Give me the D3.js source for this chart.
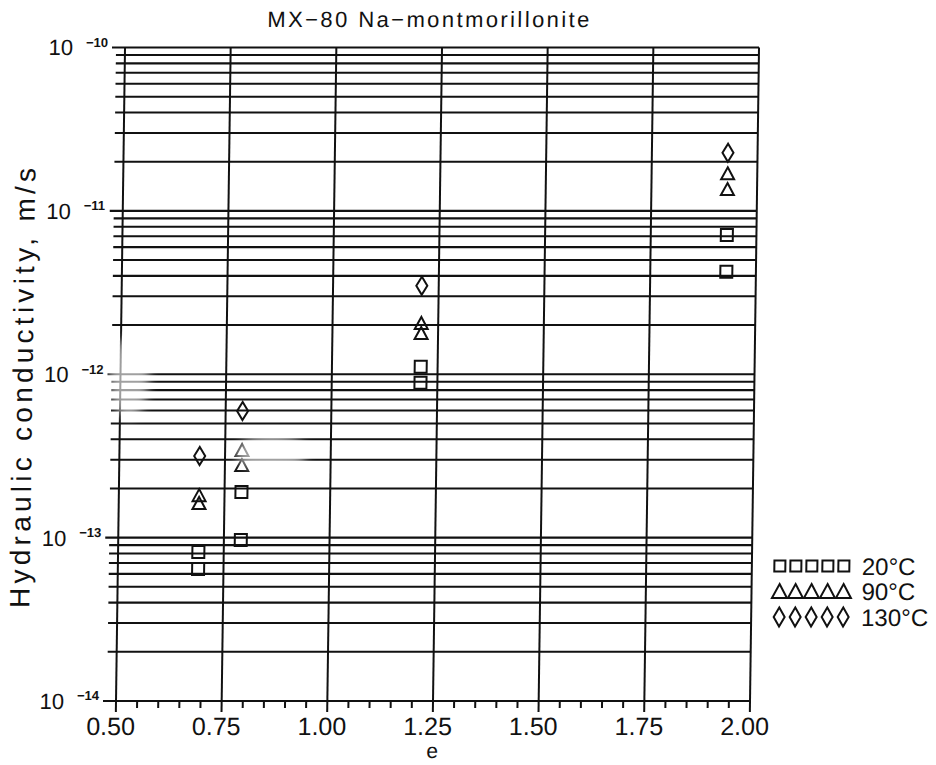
<!DOCTYPE html>
<html>
<head>
<meta charset="utf-8">
<script src="https://cdn.jsdelivr.net/npm/d3@7/dist/d3.min.js"></script>
<style>
  html, body { margin: 0; padding: 0; background: #fff; }
  svg { display: block; }
  text { font-family: "Liberation Sans", Arial, sans-serif; fill: #111; }
</style>
</head>
<body>
<svg id="chart" width="936" height="765"></svg>
<script>
// Void ratio e and hydraulic conductivity (m/s) for MX-80 Na-montmorillonite
const e20  = [0.69, 0.69, 0.79, 0.79, 1.21, 1.21, 1.93, 1.93];
const k20  = [8.17e-14, 6.43e-14, 1.90e-13, 9.68e-14, 1.11e-12, 8.88e-13, 7.11e-12, 4.24e-12];
const e90  = [0.69, 0.69, 0.79, 0.79, 1.21, 1.21, 1.93, 1.93];
const k90  = [1.82e-13, 1.63e-13, 3.44e-13, 2.78e-13, 2.06e-12, 1.79e-12, 1.70e-11, 1.36e-11];
const e130 = [0.69, 0.79, 1.21, 1.93];
const k130 = [3.16e-13, 5.96e-13, 3.48e-12, 2.27e-11];

const xTicks = [0.50, 0.75, 1.00, 1.25, 1.50, 1.75, 2.00];
const yExponents = [-10, -11, -12, -13, -14];
const legendLabels = ["20°C", "90°C", "130°C"];

const svg = d3.select("#chart");
const plotLeft = 116, plotRight = 750, plotTop = 47.5, plotBottom = 701;

const defs = svg.append("defs");
defs.append("filter").attr("id", "soft")
  .attr("x", "-50%").attr("y", "-50%").attr("width", "200%").attr("height", "200%")
  .append("feGaussianBlur").attr("stdDeviation", 5);

// the whole sheet leans slightly to the right towards the top
const root = svg.append("g")
  .attr("transform", `translate(0,${plotBottom}) skewX(-0.79) translate(0,${-plotBottom})`);

const x = d3.scaleLinear().domain([0.5, 2.0]).range([plotLeft, plotRight]);
const y = d3.scaleLog().domain([1e-14, 1e-10]).range([plotBottom, plotTop]);

// horizontal grid at every 1..9 x 10^n
const gridVals = [];
for (let p = -14; p < -10; p++) for (let m = 1; m <= 9; m++) gridVals.push(m * Math.pow(10, p));
gridVals.push(1e-10);
const isDecade = d => Math.abs(Math.log10(d) - Math.round(Math.log10(d))) < 1e-9;

root.append("g").selectAll("line").data(gridVals).join("line")
  .attr("x1", d => isDecade(d) ? plotLeft - 13 : plotLeft - 9)
  .attr("x2", plotRight)
  .attr("y1", d => y(d)).attr("y2", d => y(d))
  .attr("stroke", "#111").attr("stroke-width", 2.1);

// vertical grid at the labelled e values
root.append("g").selectAll("line").data(xTicks).join("line")
  .attr("x1", d => x(d)).attr("x2", d => x(d))
  .attr("y1", plotTop).attr("y2", plotBottom + 11)
  .attr("stroke", "#111").attr("stroke-width", 2);

// minor ticks below the e axis
const minorX = d3.range(0.55, 2.0, 0.05).filter(v => Math.abs(v / 0.25 - Math.round(v / 0.25)) > 1e-6);
root.append("g").selectAll("line").data(minorX).join("line")
  .attr("x1", d => x(d)).attr("x2", d => x(d))
  .attr("y1", plotBottom).attr("y2", plotBottom + 7)
  .attr("stroke", "#111").attr("stroke-width", 2);

// x tick labels
root.append("g").selectAll("text").data(xTicks).join("text")
  .attr("x", d => x(d) - 5).attr("y", 735)
  .attr("text-anchor", "middle").attr("font-size", 25)
  .text(d => d.toFixed(2));

// y tick labels: 10 with a raised exponent
const yl = root.append("g").selectAll("g").data(yExponents).join("g");
yl.append("text")
  .attr("x", 64).attr("y", d => y(Math.pow(10, d)) + 8)
  .attr("text-anchor", "end").attr("font-size", 22)
  .text("10");
yl.append("text")
  .attr("x", 77).attr("y", d => y(Math.pow(10, d)) - 0.5)
  .attr("text-anchor", "start").attr("font-size", 13)
  .attr("font-weight", "bold")
  .text(d => "\u2212" + Math.abs(d));

// titles
root.append("text")
  .attr("x", 258).attr("y", 27)
  .attr("font-size", 22)
  .attr("textLength", 322).attr("lengthAdjust", "spacing")
  .text("MX\u221280  Na\u2212montmorillonite");

root.append("text")
  .attr("x", 433).attr("y", 758)
  .attr("text-anchor", "middle").attr("font-size", 21)
  .text("e");

root.append("text")
  .attr("transform", "translate(28,388) rotate(-90)")
  .attr("text-anchor", "middle").attr("font-size", 28)
  .attr("textLength", 440).attr("lengthAdjust", "spacing")
  .text("Hydraulic conductivity, m/s");

// marker outlines centred on (0,0)
const squarePath = (w, h) => `M${-w/2},${-h/2}H${w/2}V${h/2}H${-w/2}Z`;
const trianglePath = (w, h) => `M0,${-h/2}L${w/2},${h/2}H${-w/2}Z`;
const diamondPath = (w, h) => `M0,${-h/2}L${w/2},0L0,${h/2}L${-w/2},0Z`;

const markerStyle = sel => sel.attr("fill", "none").attr("stroke", "#111")
  .attr("stroke-width", 2).attr("stroke-linejoin", "miter");

const pts = root.append("g");
markerStyle(pts.append("g").selectAll("path").data(d3.zip(e20, k20)).join("path")
  .attr("transform", d => `translate(${x(d[0])},${y(d[1])})`)
  .attr("d", squarePath(12, 12)));
markerStyle(pts.append("g").selectAll("path").data(d3.zip(e90, k90)).join("path")
  .attr("transform", d => `translate(${x(d[0])},${y(d[1])})`)
  .attr("d", trianglePath(13, 12)));
markerStyle(pts.append("g").selectAll("path").data(d3.zip(e130, k130)).join("path")
  .attr("transform", d => `translate(${x(d[0])},${y(d[1])})`)
  .attr("d", diamondPath(11, 18)));

// faded patches of the sheet
const haze = root.append("g").attr("filter", "url(#soft)").attr("fill", "#fff");
haze.append("ellipse").attr("cx", 125).attr("cy", 377).attr("rx", 20).attr("ry", 42).attr("opacity", 0.6);
haze.append("ellipse").attr("cx", 268).attr("cy", 453).attr("rx", 36).attr("ry", 19).attr("opacity", 0.6);

// legend: five repeated symbols followed by the temperature
const legendShapes = [squarePath(11, 11), trianglePath(15, 14), diamondPath(11, 19)];
const legendRowY = [566, 591, 617];
const lg = root.append("g");
legendLabels.forEach((lab, i) => {
  markerStyle(lg.append("g").selectAll("path").data(d3.range(5)).join("path")
    .attr("transform", j => `translate(${778 + j * 16},${legendRowY[i]})`)
    .attr("d", legendShapes[i]));
  lg.append("text")
    .attr("x", 860).attr("y", legendRowY[i] + 9)
    .attr("font-size", 24)
    .text(lab);
});
</script>
</body>
</html>
